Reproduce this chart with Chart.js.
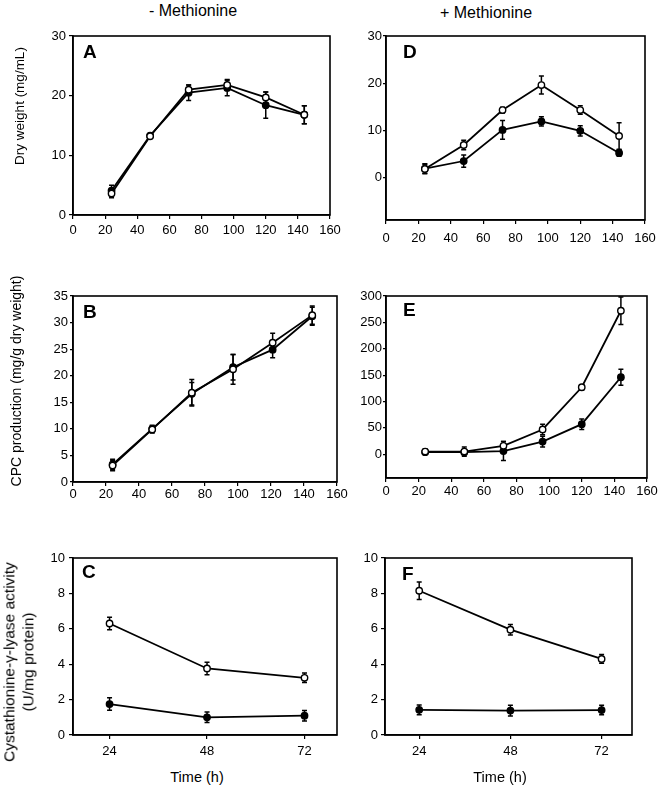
<!DOCTYPE html>
<html>
<head>
<meta charset="utf-8">
<script src="https://cdn.jsdelivr.net/npm/chart.js@4.4.0/dist/chart.umd.min.js"></script>
<style>
  body { margin: 0; background: #fff; width: 660px; height: 801px; position: relative; overflow: hidden;
         font-family: "Liberation Sans", Arial, sans-serif; color: #000; }
  canvas { position: absolute; }
  .txt { position: absolute; white-space: nowrap; line-height: 1; }
  .letter { font-size: 19px; font-weight: bold; }
  .head { font-size: 16px; }
  .ytitle { position: absolute; white-space: nowrap; line-height: 1.2; text-align: center;
            transform: translate(-50%, -50%) rotate(-90deg); }
  .xtitle { position: absolute; width: 100px; text-align: center; font-size: 14.5px; line-height: 1; }
</style>
</head>
<body>
<div class="txt head" style="left:149px; top:3px;">- Methionine</div>
<div class="txt head" style="left:440px; top:5px;">+ Methionine</div>

<canvas id="panelA"></canvas>
<canvas id="panelD"></canvas>
<canvas id="panelB"></canvas>
<canvas id="panelE"></canvas>
<canvas id="panelC"></canvas>
<canvas id="panelF"></canvas>

<div class="txt letter" style="left:83px; top:42px;">A</div>
<div class="txt letter" style="left:403px; top:42px;">D</div>
<div class="txt letter" style="left:83px; top:302px;">B</div>
<div class="txt letter" style="left:403px; top:300px;">E</div>
<div class="txt letter" style="left:82px; top:562px;">C</div>
<div class="txt letter" style="left:402px; top:564px;">F</div>

<div class="ytitle" style="left:20px; top:106px; font-size:13.5px;">Dry weight (mg/mL)</div>
<div class="ytitle" style="left:16px; top:381px; font-size:14px;">CPC production (mg/g dry weight)</div>
<div class="ytitle" style="left:19px; top:662px; font-size:15.5px;">Cystathionine-γ-lyase activity<br>(U/mg protein)</div>

<div class="xtitle" style="left:147px; top:770px;">Time (h)</div>
<div class="xtitle" style="left:450px; top:770px;">Time (h)</div>

<script>
// sampling times (h)
const times = [24, 48, 72, 96, 120, 144];
const timesB = [24, 48, 72, 97, 121, 145];
const timesShort = [24, 48, 72];

// A: dry weight, - methionine
const dryMinusOpen = [3.6, 13.2, 21.0, 21.8, 19.7, 16.8];
const dryMinusOpenErr = [0.7, 0.3, 0.8, 0.9, 0.9, 1.5];
const dryMinusFilled = [4.1, 13.3, 20.5, 21.3, 18.4, 16.8];
const dryMinusFilledErr = [0.9, 0.3, 1.3, 1.3, 2.2, 1.5];

// D: dry weight, + methionine
const dryPlusOpen = [1.8, 6.9, 14.3, 19.6, 14.3, 8.8];
const dryPlusOpenErr = [1.0, 1.0, 0.6, 1.9, 0.9, 2.8];
const dryPlusFilled = [1.9, 3.5, 10.1, 11.9, 9.9, 5.2];
const dryPlusFilledErr = [1.0, 1.3, 2.0, 1.0, 1.1, 0.7];

// B: CPC production, - methionine
const cpcMinusOpen = [3.1, 9.9, 16.8, 21.2, 26.2, 31.4];
const cpcMinusOpenErr = [1.0, 0.7, 2.5, 2.8, 1.8, 1.7];
const cpcMinusFilled = [3.3, 10.0, 16.6, 21.6, 24.9, 31.2];
const cpcMinusFilledErr = [1.0, 0.7, 2.1, 2.4, 1.5, 1.7];

// E: CPC production, + methionine
const cpcPlusOpen = [5, 5, 16, 47, 127, 272];
const cpcPlusOpenErr = [5, 9, 8, 10, 5, 26];
const cpcPlusFilled = [4, 4, 6, 24, 57, 146];
const cpcPlusFilledErr = [4, 5, 18, 10, 10, 15];

// C: cystathionine-gamma-lyase, - methionine
const cglMinusOpen = [6.3, 3.76, 3.23];
const cglMinusOpenErr = [0.35, 0.35, 0.27];
const cglMinusFilled = [1.75, 1.0, 1.09];
const cglMinusFilledErr = [0.35, 0.3, 0.3];

// F: cystathionine-gamma-lyase, + methionine
const cglPlusOpen = [8.15, 5.95, 4.3];
const cglPlusOpenErr = [0.5, 0.3, 0.25];
const cglPlusFilled = [1.42, 1.38, 1.41];
const cglPlusFilledErr = [0.27, 0.3, 0.27];

// tick labels
const xTicksTime = [0, 20, 40, 60, 80, 100, 120, 140, 160];
const xTicksShort = [24, 48, 72];
const yTicksDry = [0, 10, 20, 30];
const yTicksCpcMinus = [0, 5, 10, 15, 20, 25, 30, 35];
const yTicksCpcPlus = [0, 50, 100, 150, 200, 250, 300];
const yTicksCgl = [0, 2, 4, 6, 8, 10];

const FONT = { family: "'Liberation Sans', Arial, sans-serif", size: 13 };
const PAD_L = 50, PAD_T = 12, PAD_R = 22, PAD_B = 30;

// vertical error bars, drawn under the markers
const errorBars = {
  id: "errorBars",
  beforeDatasetsDraw(chart) {
    const ctx = chart.ctx;
    const yScale = chart.scales.y;
    chart.data.datasets.forEach((ds, i) => {
      const meta = chart.getDatasetMeta(i);
      ctx.save();
      ctx.strokeStyle = "#000";
      ctx.lineWidth = 1.5;
      meta.data.forEach((pt, j) => {
        const v = ds.data[j].y;
        const e = ds.errors[j];
        const top = yScale.getPixelForValue(v + e);
        const bot = yScale.getPixelForValue(v - e);
        ctx.beginPath();
        ctx.moveTo(pt.x, top); ctx.lineTo(pt.x, bot);
        ctx.moveTo(pt.x - 2.5, top); ctx.lineTo(pt.x + 2.5, top);
        ctx.moveTo(pt.x - 2.5, bot); ctx.lineTo(pt.x + 2.5, bot);
        ctx.stroke();
      });
      ctx.restore();
    });
  }
};

// frame round the plot area
const frame = {
  id: "frame",
  afterDraw(chart) {
    const a = chart.chartArea;
    const ctx = chart.ctx;
    ctx.save();
    ctx.strokeStyle = "#000";
    ctx.lineWidth = 1.6;
    ctx.strokeRect(a.left, a.top, a.right - a.left, a.bottom - a.top);
    ctx.restore();
  }
};

function series(xs, ys, errs, filled) {
  return {
    data: xs.map((x, i) => ({ x: x, y: ys[i] })),
    errors: errs,
    borderColor: "#000",
    borderWidth: 1.8,
    pointRadius: 3.2,
    pointBorderWidth: 1.4,
    pointBackgroundColor: filled ? "#000" : "#fff",
    pointBorderColor: "#000",
    tension: 0,
    fill: false
  };
}

function panel(id, box, cfg) {
  const c = document.getElementById(id);
  c.width = box.r - box.l + PAD_L + PAD_R;
  c.height = box.b - box.t + PAD_T + PAD_B;
  c.style.left = (box.l - PAD_L) + "px";
  c.style.top = (box.t - PAD_T) + "px";

  return new Chart(c, {
    type: "line",
    plugins: [errorBars, frame],
    data: { datasets: cfg.datasets },
    options: {
      responsive: false,
      animation: false,
      events: [],
      layout: { padding: { left: 0, top: PAD_T, right: PAD_R, bottom: 0 } },
      plugins: { legend: { display: false }, tooltip: { enabled: false } },
      scales: {
        x: {
          type: "linear",
          min: cfg.xMin, max: cfg.xMax,
          afterBuildTicks: (axis) => { axis.ticks = cfg.xTicks.map(v => ({ value: v })); },
          afterFit: (axis) => { axis.height = PAD_B; },
          grid: { drawOnChartArea: false, drawTicks: true, tickLength: 4, color: "#000", lineWidth: 1.2 },
          border: { display: true, color: "#000", width: 1.6 },
          ticks: { color: "#000", font: FONT, padding: cfg.xPad, maxRotation: 0, autoSkip: false }
        },
        y: {
          min: cfg.yMin, max: cfg.yMax,
          afterBuildTicks: (axis) => { axis.ticks = cfg.yTicks.map(v => ({ value: v })); },
          afterFit: (axis) => { axis.width = PAD_L; },
          grid: { drawOnChartArea: false, drawTicks: true, tickLength: cfg.yTickLen, color: "#000", lineWidth: 1.2 },
          border: { display: true, color: "#000", width: 1.6 },
          ticks: { color: "#000", font: FONT, padding: cfg.yPad, autoSkip: false }
        }
      }
    }
  });
}

panel("panelA", { l: 73, t: 36, r: 330, b: 215 }, {
  datasets: [
    series(times, dryMinusOpen, dryMinusOpenErr, false),
    series(times, dryMinusFilled, dryMinusFilledErr, true)
  ],
  xMin: 0, xMax: 160, xTicks: xTicksTime, xPad: 4,
  yMin: 0, yMax: 30, yTicks: yTicksDry, yTickLen: 4, yPad: 3
});

panel("panelD", { l: 386, t: 36, r: 645, b: 220 }, {
  datasets: [
    series(times, dryPlusOpen, dryPlusOpenErr, false),
    series(times, dryPlusFilled, dryPlusFilledErr, true)
  ],
  xMin: 0, xMax: 160, xTicks: xTicksTime, xPad: 7,
  yMin: -9, yMax: 30, yTicks: yTicksDry, yTickLen: 3, yPad: 1
});

panel("panelB", { l: 73, t: 296, r: 337, b: 482 }, {
  datasets: [
    series(timesB, cpcMinusOpen, cpcMinusOpenErr, false),
    series(timesB, cpcMinusFilled, cpcMinusFilledErr, true)
  ],
  xMin: 0, xMax: 160, xTicks: xTicksTime, xPad: 1,
  yMin: 0, yMax: 35, yTicks: yTicksCpcMinus, yTickLen: 3, yPad: 2
});

panel("panelE", { l: 386, t: 296, r: 647, b: 478 }, {
  datasets: [
    series(times, cpcPlusOpen, cpcPlusOpenErr, false),
    series(times, cpcPlusFilled, cpcPlusFilledErr, true)
  ],
  xMin: 0, xMax: 160, xTicks: xTicksTime, xPad: 2,
  yMin: -45, yMax: 300, yTicks: yTicksCpcPlus, yTickLen: 3, yPad: 1
});

panel("panelC", { l: 73, t: 558, r: 337, b: 735 }, {
  datasets: [
    series(timesShort, cglMinusOpen, cglMinusOpenErr, false),
    series(timesShort, cglMinusFilled, cglMinusFilledErr, true)
  ],
  xMin: 15, xMax: 80, xTicks: xTicksShort, xPad: 5,
  yMin: 0, yMax: 10, yTicks: yTicksCgl, yTickLen: 4, yPad: 4
});

panel("panelF", { l: 385, t: 558, r: 632, b: 735 }, {
  datasets: [
    series(timesShort, cglPlusOpen, cglPlusOpenErr, false),
    series(timesShort, cglPlusFilled, cglPlusFilledErr, true)
  ],
  xMin: 15, xMax: 80, xTicks: xTicksShort, xPad: 5,
  yMin: 0, yMax: 10, yTicks: yTicksCgl, yTickLen: 4, yPad: 3
});
</script>
</body>
</html>
